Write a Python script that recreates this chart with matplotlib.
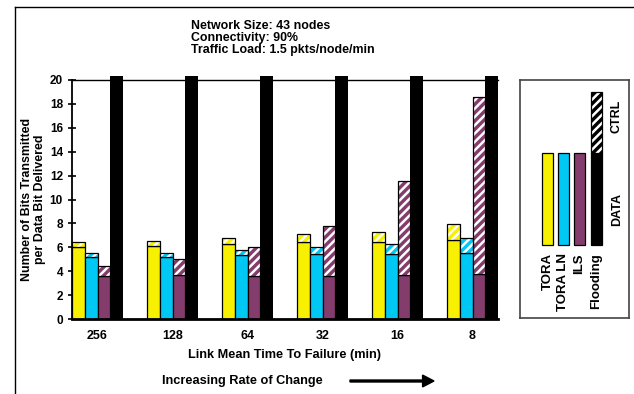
import matplotlib
import matplotlib.pyplot as plt
from matplotlib.lines import Line2D
from matplotlib.patches import FancyArrow, Rectangle

matplotlib.use("Agg")

plt.rcParams["font.family"] = ["Liberation Sans", "DejaVu Sans"]
plt.rcParams["font.weight"] = "bold"
plt.rcParams["font.size"] = 8.5
plt.rcParams["hatch.linewidth"] = 1.8

# link mean time to failure (min)
mttf = ["256", "128", "64", "32", "16", "8"]

# bits transmitted per data bit delivered: data part and data + control total
tora_data = [6.0, 6.1, 6.25, 6.45, 6.45, 6.6]
tora_total = [6.45, 6.55, 6.75, 7.1, 7.3, 7.95]
toraln_data = [5.2, 5.15, 5.35, 5.4, 5.45, 5.5]
toraln_total = [5.55, 5.55, 5.8, 6.0, 6.25, 6.75]
ils_data = [3.6, 3.65, 3.6, 3.6, 3.65, 3.75]
ils_total = [4.4, 5.0, 6.0, 7.8, 11.55, 18.6]
# flooding is far off the scale, drawn running past the top
flood_total = [20.3] * 6

YELLOW = "#f7f000"
CYAN = "#00c8f5"
PURPLE = "#843c6c"

fig = plt.figure(figsize=(6.34, 3.94), dpi=100)
ax = fig.add_axes([72 / 634, 1 - 319 / 394, 426 / 634, 239 / 394])

w = 0.17
series = [
    (tora_data, tora_total, YELLOW),
    (toraln_data, toraln_total, CYAN),
    (ils_data, ils_total, PURPLE),
]
for i in range(len(mttf)):
    for k, (data, total, color) in enumerate(series):
        x = i + k * w
        ctrl = total[i] - data[i]
        ax.bar(x, data[i], w, align="edge", color=color, edgecolor="black", lw=0.9, zorder=2)
        ax.bar(x, ctrl, w, bottom=data[i], align="edge", color=color,
               edgecolor="white", hatch="////", lw=0, zorder=2)
        ax.bar(x, ctrl, w, bottom=data[i], align="edge", fill=False,
               edgecolor="black", lw=0.9, zorder=3)
    ax.bar(i + 3 * w, flood_total[i], w, align="edge", color="black",
           lw=0, zorder=2, clip_on=False)

ax.set_xlim(0, len(mttf) - 1 + 4 * w)
ax.set_ylim(0, 20)
ax.set_yticks(range(0, 21, 2))
ax.set_xticks([i + 2 * w for i in range(len(mttf))])
ax.set_xticklabels(mttf)
ax.tick_params(axis="x", length=0, pad=8, labelsize=9)
ax.tick_params(axis="y", direction="inout", length=6, width=1.2, labelsize=8.5)
ax.spines["right"].set_visible(False)
ax.spines["left"].set_linewidth(1.3)
ax.spines["bottom"].set_linewidth(2)
ax.spines["top"].set_linewidth(1)

ax.set_ylabel("Number of Bits Transmitted\nper Data Bit Delivered", fontsize=8.9,
              fontweight="bold", labelpad=3, linespacing=1.1)
ax.set_xlabel("Link Mean Time To Failure (min)", fontsize=9.2, fontweight="bold", labelpad=5)

fig.text(191 / 634, 1 - 20 / 394,
         "Network Size: 43 nodes\nConnectivity: 90%\nTraffic Load: 1.5 pkts/node/min",
         fontsize=8.9, fontweight="bold", va="top", linespacing=1.02)

fig.text(242 / 634, 1 - 381 / 394, "Increasing Rate of Change", fontsize=9.2,
         fontweight="bold", ha="center", va="center")
fig.patches.append(FancyArrow(
    350 / 634, 1 - 381 / 394, 84 / 634, 0, width=0.005, head_width=0.03,
    head_length=0.018, length_includes_head=True, color="black",
    transform=fig.transFigure, figure=fig))

# open frame on the left and top
fig.add_artist(Line2D([15 / 634, 15 / 634], [0, 1 - 7 / 394], color="black", lw=1))
fig.add_artist(Line2D([15 / 634, 1], [1 - 7 / 394, 1 - 7 / 394], color="black", lw=1))

# legend panel
lg = fig.add_axes([520 / 634, 1 - 318 / 394, 109 / 634, 238 / 394])
lg.set_xlim(0, 109)
lg.set_ylim(0, 238)
lg.set_xticks([])
lg.set_yticks([])
for s in lg.spines.values():
    s.set_color("#444444")
    s.set_linewidth(1.2)

names = ["TORA", "TORA LN", "ILS", "Flooding"]
colors = [YELLOW, CYAN, PURPLE, "black"]
lefts = [22, 38, 54, 71]
for name, color, x in zip(names, colors, lefts):
    lg.add_patch(Rectangle((x, 73), 10.5, 92, facecolor=color, edgecolor="black", lw=0.9))
    lg.text(x + 5.5, 65, name, rotation=90, ha="center", va="top", fontsize=9.5,
            fontweight="bold")
lg.add_patch(Rectangle((71, 165), 10.5, 61, facecolor="black", edgecolor="white",
                       hatch="////", lw=0))
lg.add_patch(Rectangle((71, 165), 10.5, 61, fill=False, edgecolor="black", lw=0.9))
lg.text(97, 109, "DATA", rotation=90, ha="center", va="center", fontsize=9,
        fontweight="bold")
lg.text(97, 202, "CTRL", rotation=90, ha="center", va="center", fontsize=9,
        fontweight="bold")

fig.savefig("out.png", dpi=100)
plt.close(fig)
